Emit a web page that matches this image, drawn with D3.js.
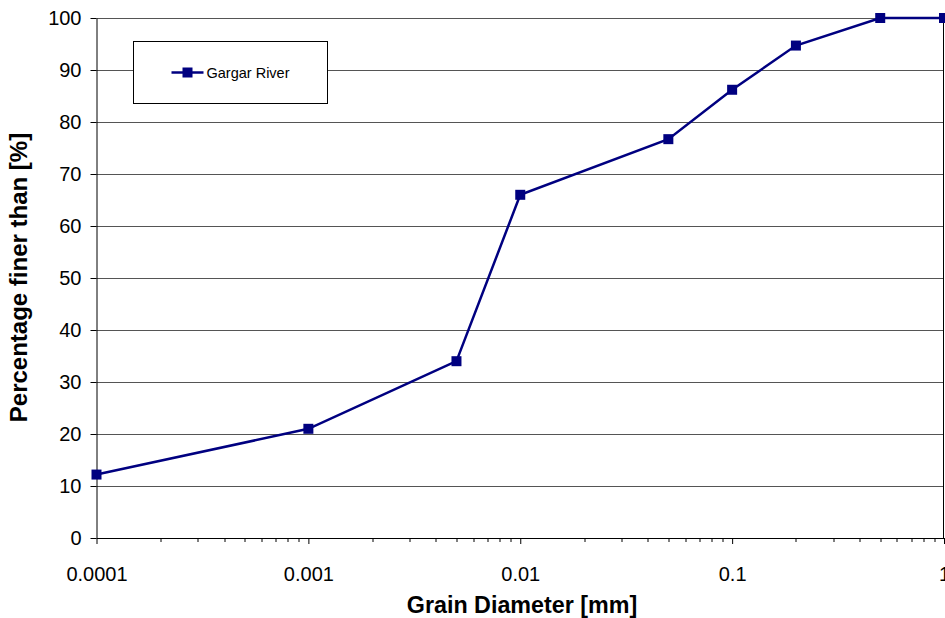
<!DOCTYPE html>
<html>
<head>
<meta charset="utf-8">
<script src="https://cdn.jsdelivr.net/npm/d3@7"></script>
<style>
body { margin:0; background:#fff; }
svg { font-family: "Liberation Sans", Arial, sans-serif; }
</style>
</head>
<body>
<svg id="chart"></svg>
<script>
// Grain size distribution - Gargar River

var seriesName = "Gargar River";
var diameters = [0.0001, 0.001, 0.005, 0.01, 0.05, 0.1, 0.2, 0.5, 1];
var percentFiner = [12.2, 21, 34, 66, 76.7, 86.2, 94.7, 100, 100];
var xTicks = [0.0001, 0.001, 0.01, 0.1, 1];
var xTickLabels = ["0.0001", "0.001", "0.01", "0.1", "1"];
var yTicks = [0, 10, 20, 30, 40, 50, 60, 70, 80, 90, 100];

var W = 945, H = 618;
var margin = {top:18, right:1, bottom:80, left:96.5},
width = W - margin.left - margin.right,
height = H - margin.top - margin.bottom;

var svg = d3.select("#chart")
.attr("width", W)
.attr("height", H);

var g = svg.append("g")
.attr("transform", "translate(" + margin.left + "," + margin.top + ")");

var x = d3.scaleLog()
.domain([0.0001, 1])
.range([0, width]);

var y = d3.scaleLinear()
.domain([0, 100])
.range([height, 0]);

// horizontal gridlines
g.selectAll(".grid")
.data(yTicks.filter(function(d){ return d > 0; }))
.enter()
.append("line")
.attr("x1", 0)
.attr("x2", width)
.attr("y1", function(d){ return Math.round(y(d)) + 0.5; })
.attr("y2", function(d){ return Math.round(y(d)) + 0.5; })
.attr("stroke", "#555")
.attr("stroke-width", 1);

// right border of plot area
g.append("line")
.attr("x1", width - 0.5).attr("x2", width - 0.5)
.attr("y1", 0).attr("y2", height)
.attr("stroke", "#000");

// y axis
var yAxis = g.append("g")
.call(d3.axisLeft(y).tickValues(yTicks).tickSize(6).tickPadding(9).tickSizeOuter(0));
yAxis.select(".domain").attr("stroke", "#000");
yAxis.selectAll("text").style("font-size", "20px").attr("fill", "#000");

// x axis - minor ticks
var minor = [];
for (var e = -4; e < 0; e++) {
  for (var m = 2; m <= 9; m++) minor.push(m * Math.pow(10, e));
}
g.append("g")
.attr("transform", "translate(0," + height + ")")
.selectAll("line")
.data(minor)
.enter()
.append("line")
.attr("x1", function(d){ return Math.round(x(d)) + 0.5; })
.attr("x2", function(d){ return Math.round(x(d)) + 0.5; })
.attr("y1", 0).attr("y2", 4)
.attr("stroke", "#000");

var xAxis = g.append("g")
.attr("transform", "translate(0," + height + ")")
.call(d3.axisBottom(x).tickValues(xTicks).tickFormat(function(d, i){ return xTickLabels[i]; })
  .tickSize(6).tickPadding(23).tickSizeOuter(0));
xAxis.select(".domain").attr("stroke", "#000");
xAxis.selectAll("text").style("font-size", "20px").attr("fill", "#000");

// series line
var line = d3.line()
.x(function(d){ return x(d[0]); })
.y(function(d){ return y(d[1]); });

var points = diameters.map(function(d, i){ return [d, percentFiner[i]]; });

g.append("path")
.datum(points)
.attr("d", line)
.attr("fill", "none")
.attr("stroke", "#000080")
.attr("stroke-width", 2.5);

g.selectAll(".marker")
.data(points)
.enter()
.append("rect")
.attr("x", function(d){ return x(d[0]) - 5; })
.attr("y", function(d){ return y(d[1]) - 5; })
.attr("width", 10)
.attr("height", 10)
.attr("fill", "#000080");

// legend
var legend = svg.append("g")
.attr("transform", "translate(133.5,41.5)");
legend.append("rect")
.attr("width", 194)
.attr("height", 62)
.attr("fill", "#fff")
.attr("stroke", "#000");
legend.append("line")
.attr("x1", 38).attr("x2", 70)
.attr("y1", 31).attr("y2", 31)
.attr("stroke", "#000080")
.attr("stroke-width", 2.5);
legend.append("rect")
.attr("x", 49).attr("y", 26)
.attr("width", 10).attr("height", 10)
.attr("fill", "#000080");
legend.append("text")
.attr("x", 73).attr("y", 36.5)
.style("font-size", "14.5px")
.text(seriesName);

// axis titles
svg.append("text")
.attr("x", 522)
.attr("y", 613)
.attr("text-anchor", "middle")
.style("font-size", "23.3px")
.style("font-weight", "bold")
.text("Grain Diameter [mm]");

svg.append("text")
.attr("transform", "translate(27,277.5)rotate(-90)")
.attr("text-anchor", "middle")
.style("font-size", "24px")
.style("font-weight", "bold")
.text("Percentage finer than [%]");
</script>
</body>
</html>
